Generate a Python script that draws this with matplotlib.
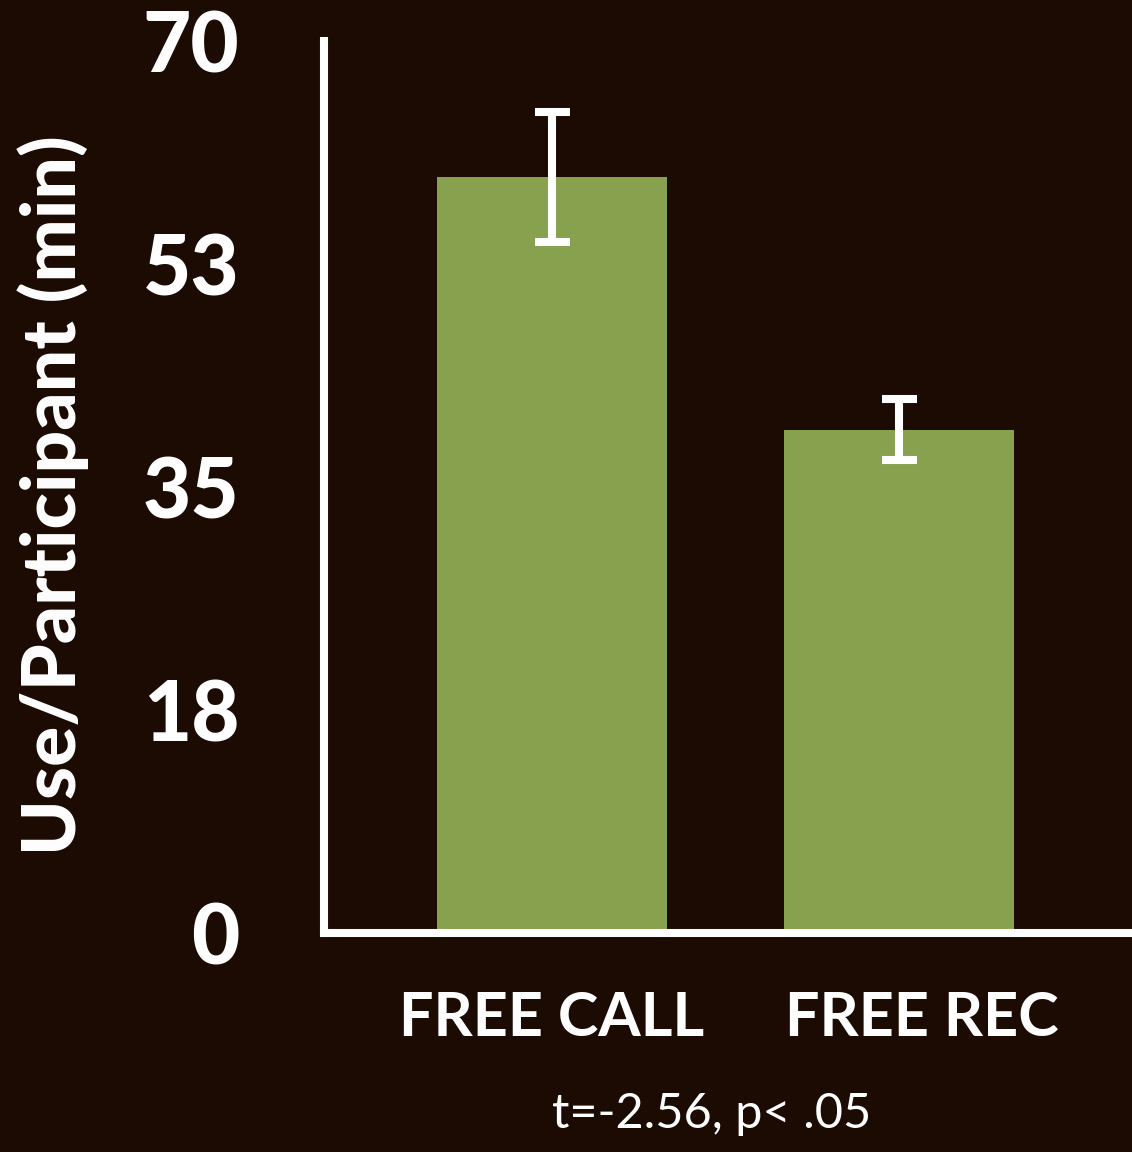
import matplotlib
matplotlib.use("Agg")
import matplotlib.pyplot as plt
import matplotlib.transforms as mtransforms

# data
groups = ["FREE CALL", "FREE REC"]
means = [59.3, 39.5]
errors = [5.1, 2.4]
ytick_vals = [0, 17.5, 35, 52.5, 70]
ytick_labels = ["0", "18", "35", "53", "70"]
note = "t=-2.56, p< .05"

bg = "#1c0b02"
green = "#88a14e"

fig = plt.figure(figsize=(11.32, 11.52), dpi=100, facecolor=bg)
ax = fig.add_axes([0.2862, 0.1901, 0.7138, 0.7743], facecolor=bg)

x = list(range(len(groups)))
ax.bar(x, means, width=0.663, color=green, zorder=1)
ax.errorbar(x, means, yerr=errors, fmt="none", ecolor="white",
            elinewidth=5.8, capsize=12.6, capthick=5.8, zorder=3)

ax.set_xlim(-0.657, 1.671)
ax.set_ylim(0, 70)

for s in ["top", "right"]:
    ax.spines[s].set_visible(False)
for s in ["left", "bottom"]:
    ax.spines[s].set_color("white")
    ax.spines[s].set_linewidth(5.8)
    ax.spines[s].set_zorder(2)

ax.set_yticks(ytick_vals)
ax.set_yticklabels(ytick_labels, fontsize=60, fontfamily="Lato",
                   fontweight="black", color="white")
ax.tick_params(axis="y", length=0, pad=61)

ax.set_xticks(x)
ax.set_xticklabels(groups, fontsize=44, fontfamily="Lato",
                   fontweight="bold", color="white")
ax.tick_params(axis="x", length=0, pad=41)
# second label sits a little right of its bar in the original
lab = ax.get_xticklabels()[1]
lab.set_transform(lab.get_transform() +
                  mtransforms.ScaledTranslation(23 / 100, 0, fig.dpi_scale_trans))

fig.text(53 / 1132, 1 - 495 / 1152, "Use/Participant (min)", rotation=90,
         ha="center", va="center", fontsize=54, fontfamily="Lato",
         fontweight="black", color="white")

fig.text(712 / 1132, 1 - 1114 / 1152, note, ha="center", va="center",
         fontsize=35, fontfamily="Lato", fontweight="normal", color="white")

fig.savefig("out.png", dpi=100, facecolor=bg)
